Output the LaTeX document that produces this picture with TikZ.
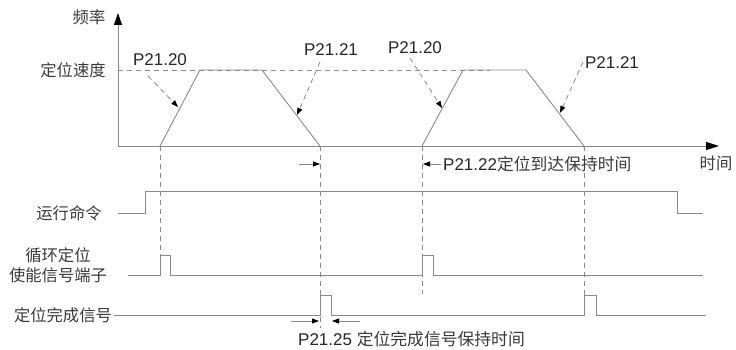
\documentclass[tikz,border=0pt]{standalone}
\usepackage{fontspec}
\setmainfont{Liberation Sans}
\newfontfamily\cjk{Noto Sans CJK SC}
\usetikzlibrary{arrows.meta}
\definecolor{ln}{HTML}{8A8A8A}
\definecolor{tx}{HTML}{3A3A3A}
\begin{document}
\begin{tikzpicture}[x=1pt,y=-1pt,
  sig/.style={draw=ln,line width=0.9pt},
  dsh/.style={draw=ln,line width=0.8pt,dash pattern=on 5pt off 4pt},
  pointer/.style={draw=ln,line width=0.8pt,dash pattern=on 5pt off 4pt,-{Triangle[length=7pt,width=5pt,color=black]}},
  tick/.style={draw=ln,line width=0.8pt,-{Triangle[length=7pt,width=5pt,color=black]}},
  cn/.style={text=tx,font=\cjk\fontsize{16.3}{18}\selectfont,inner sep=0pt},
  pl/.style={text=black!85,font=\fontsize{17}{19}\selectfont,inner sep=0pt}]
\useasboundingbox (0,0) rectangle (736,350);
% axes
\coordinate (O) at (118,146);
\coordinate (Ytop) at (118,13);
\coordinate (Xend) at (719,146);
\draw[sig,-{Triangle[length=12pt,width=8pt,color=black]}] (O) -- (Ytop);
\draw[sig,-{Triangle[length=13pt,width=8pt,color=black]}] (O) -- (Xend);
\node[cn] (freq) at (89,17) {频率};
\node[cn] (time) at (716,163) {时间};
\node[cn] (vpos) at (73,70) {定位速度};
% speed level dashed
\coordinate (Vl) at (118,70);
\coordinate (Vr) at (490,70);
\draw[dsh] (Vl) -- (Vr);
% trapezoid 1
\coordinate (A1) at (160,146);
\coordinate (B1) at (200,70);
\coordinate (C1) at (262,70);
\coordinate (D1) at (320,146);
\draw[sig] (A1) -- (B1) -- (C1) -- (D1);
% trapezoid 2
\coordinate (A2) at (422,146);
\coordinate (B2) at (463,70);
\coordinate (C2) at (526,70);
\coordinate (D2) at (584,146);
\draw[sig] (A2) -- (B2) -- (C2) -- (D2);
% labels P21.20 / P21.21
\node[pl] (pa) at (160,60) {P21.20};
\node[pl] (pb) at (331,50) {P21.21};
\node[pl] (pc) at (415,48) {P21.20};
\node[pl] (pd) at (612,63) {P21.21};
\coordinate (ta) at (178,107);
\coordinate (tb) at (297,115);
\coordinate (tc) at (442,108);
\coordinate (td) at (560,113);
\draw[pointer] (148,76) -- (ta);
\draw[pointer] (320,62) -- (tb);
\draw[pointer] (410,58) -- (tc);
\draw[pointer] (583,62) -- (td);
% vertical dashed lines
\coordinate (v1) at (160,272);
\coordinate (v2) at (320,328);
\coordinate (v3) at (422,294);
\coordinate (v4) at (584,296);
\draw[dsh] (A1) -- (v1);
\draw[dsh] (D1) -- (v2);
\draw[dsh] (A2) -- (v3);
\draw[dsh] (D2) -- (v4);
% P21.22 annotation
\coordinate (h1s) at (299,164);
\coordinate (h1e) at (320,164);
\coordinate (h2s) at (441,164);
\coordinate (h2e) at (423,164);
\draw[tick] (h1s) -- (h1e);
\draw[tick] (h2s) -- (h2e);
\node[anchor=west,inner sep=0pt] (p22) at (443,164) {\fontsize{17}{19}\selectfont\color{black!85}P21.22\cjk\fontsize{16.8}{18}\selectfont\color{tx}定位到达保持时间};
% run command
\node[cn] (run) at (69,213) {运行命令};
\draw[sig] (118,213) -- (145,213) -- (145,191) -- (677,191) -- (677,213) -- (703,213);
% cyclic enable
\node[cn,align=center] (en) at (58,265) {循环定位\\[2pt]使能信号端子};
\draw[sig] (128,275) -- (160,275) -- (160,255) -- (170,255) -- (170,275) -- (422,275) -- (422,255) -- (433,255) -- (433,275) -- (703,275);
% done signal
\node[cn] (done) at (63,315) {定位完成信号};
\draw[sig] (114,315) -- (320,315) -- (320,295) -- (331,295) -- (331,315) -- (584,315) -- (584,295) -- (596,295) -- (596,315) -- (706,315);
% P21.25
\coordinate (k1s) at (291,321);
\coordinate (k1e) at (319,321);
\coordinate (k2s) at (360,321);
\coordinate (k2e) at (332,321);
\draw[tick] (k1s) -- (k1e);
\draw[tick] (k2s) -- (k2e);
\node[anchor=west,inner sep=0pt] (p25) at (298,339) {\fontsize{17}{19}\selectfont\color{black!85}P21.25 \cjk\fontsize{16.8}{18}\selectfont\color{tx}定位完成信号保持时间};
\end{tikzpicture}
\end{document}
